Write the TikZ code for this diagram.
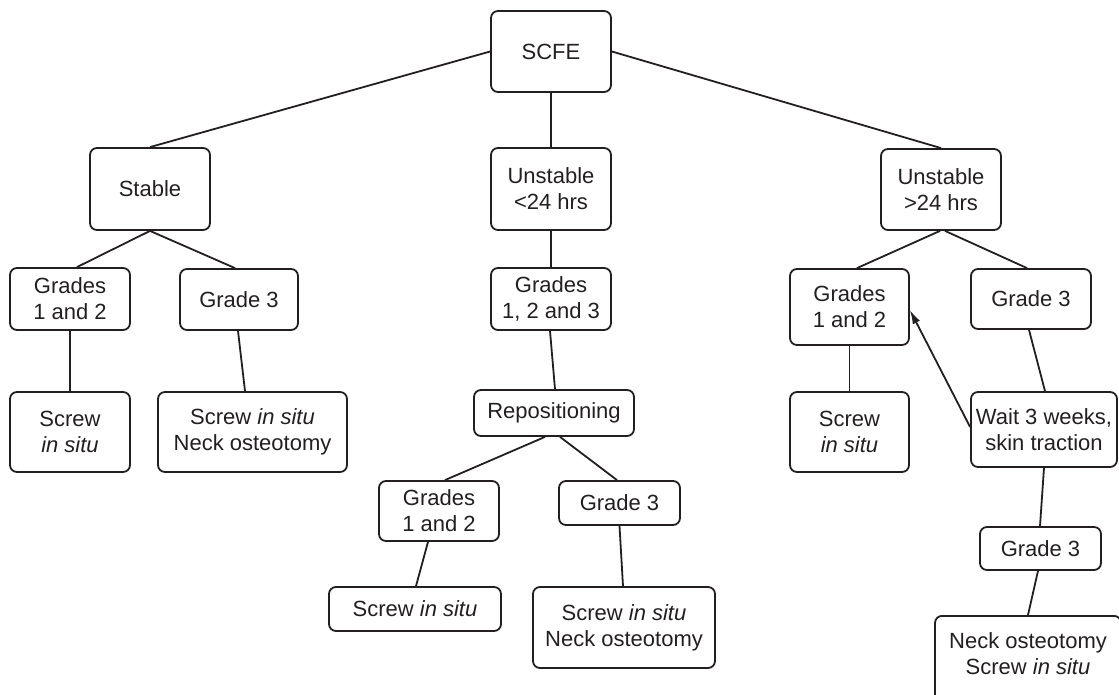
\documentclass[tikz,border=0pt]{standalone}
\usepackage{fontspec}
\setmainfont{Liberation Sans}
\usetikzlibrary{arrows.meta}
\definecolor{ink}{HTML}{231F20}
\begin{document}
\begin{tikzpicture}[x=1pt,y=-1pt,
  box/.style={draw=ink, text=ink, line width=1.8pt, rounded corners=7pt, inner sep=0pt,
              align=center, font=\fontsize{22}{26}\selectfont},
  link/.style={draw=ink, line width=1.8pt},
  arr/.style={link, -{Latex[length=14pt,width=8pt]}}]
\useasboundingbox (0,0) rectangle (1119,695);
\clip (0,0) rectangle (1119,695);
% level 0
\node[box, minimum width=120, minimum height=81] (scfe) at (551,51.5) {SCFE};
% level 1
\node[box, minimum width=120, minimum height=82] (stable) at (150,189) {Stable};
\node[box, minimum width=120, minimum height=82] (uA) at (551,189) {Unstable\\<24 hrs};
\node[box, minimum width=120, minimum height=81] (uB) at (941,189.5) {Unstable\\>24 hrs};
% left branch
\node[box, minimum width=120, minimum height=62] (g12a) at (70,299) {Grades\\1 and 2};
\node[box, minimum width=118, minimum height=61] (g3a) at (239,299.5) {Grade 3};
\node[box, minimum width=120, minimum height=80] (sa) at (70,432) {Screw\\\textit{in situ}};
\node[box, minimum width=189, minimum height=80] (sna) at (252.5,432) {Screw \textit{in situ}\\Neck osteotomy};
% middle branch
\node[box, minimum width=120, minimum height=62] (g123) at (551,299) {Grades\\1, 2 and 3};
\node[box, minimum width=160, minimum height=46] (rep) at (554,413) {Repositioning};
\node[box, minimum width=120, minimum height=60] (g12b) at (439,511) {Grades\\1 and 2};
\node[box, minimum width=121, minimum height=44] (g3b) at (619.5,503) {Grade 3};
\node[box, minimum width=172, minimum height=44] (sb) at (415,609) {Screw \textit{in situ}};
\node[box, minimum width=182, minimum height=81] (snb) at (624,627.5) {Screw \textit{in situ}\\Neck osteotomy};
% right branch
\node[box, minimum width=119, minimum height=76] (g12c) at (849.5,307) {Grades\\1 and 2};
\node[box, minimum width=120, minimum height=60] (g3c) at (1031,299) {Grade 3};
\node[box, minimum width=119, minimum height=80] (sc) at (849.5,432) {Screw\\\textit{in situ}};
\node[box, minimum width=146, minimum height=75] (wait) at (1044,429.5) {Wait 3 weeks,\\skin traction};
\node[box, minimum width=121, minimum height=43] (g3d) at (1040.5,548.5) {Grade 3};
\node[box, anchor=north, minimum width=186, text height=59pt, text depth=31pt] (fin) at (1028,615) {Neck osteotomy\\Screw \textit{in situ}};
% connectors
\draw[link] (scfe.west) -- (stable.north);
\draw[link] (scfe.south) -- (uA.north);
\draw[link] (scfe.east) -- (uB.north);
\draw[link] (stable.south) -- ([xshift=7pt]g12a.north);
\draw[link] (stable.south) -- ([xshift=-4pt]g3a.north);
\draw[link] (g12a.south) -- (sa.north);
\draw[link] ([xshift=-1pt]g3a.south) -- ([xshift=-7.5pt]sna.north);
\draw[link] (uA.south) -- (g123.north);
\draw[link] ([xshift=-1pt]g123.south) -- ([xshift=1pt]rep.north);
\draw[link] ([xshift=-9pt]rep.south) -- ([xshift=6pt]g12b.north);
\draw[link] ([xshift=6pt]rep.south) -- ([xshift=-2.5pt]g3b.north);
\draw[link] ([xshift=-11pt]g12b.south) -- ([xshift=1pt]sb.north);
\draw[link] (g3b.south) -- ([xshift=-1pt]snb.north);
\draw[link] ([xshift=-1pt]uB.south) -- ([xshift=7.5pt]g12c.north);
\draw[link] ([xshift=4pt]uB.south) -- ([xshift=-4pt]g3c.north);
\draw[link] (g12c.south) -- (sc.north);
\draw[link] ([xshift=-2pt]g3c.south) -- ([xshift=1pt]wait.north);
\draw[arr] ([yshift=2.5pt]wait.west) -- ([yshift=-3pt]g12c.east);
\draw[link] (wait.south) -- ([xshift=-0.5pt]g3d.north);
\draw[link] ([xshift=-2.5pt]g3d.south) -- (fin.north);
\end{tikzpicture}
\end{document}
